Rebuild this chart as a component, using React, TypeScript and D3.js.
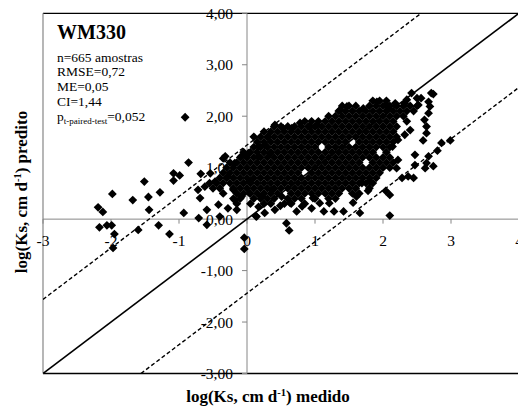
import React from "react";
import * as d3 from "d3";

const xTicks = [-3, -2, -1, 0, 1, 2, 3, 4];
const xTickLabels = ["-3", "-2", "-1", "0", "1", "2", "3", "4"];
const yTicks = [-3, -2, -1, 0, 1, 2, 3, 4];
const yTickLabels = ["-3,00", "-2,00", "-1,00", "0,00", "1,00", "2,00", "3,00", "4,00"];
const ciHalfWidth = 1.44;
const title = "WM330";
const statLines = ["n=665 amostras", "RMSE=0,72", "ME=0,05", "CI=1,44"];
const pValueText = "=0,052";

// scattered points around the cluster [measured, predicted]
const outerPoints: [number, number][] = [
  [-0.91, 1.98], [-0.86, 1.10], [-1.08, 0.89], [-0.99, 0.85], [-1.08, 0.75], [-0.68, 0.88],
  [-1.51, 0.73], [-1.98, 0.49], [-1.68, 0.37], [-1.45, 0.43], [-1.28, 0.52], [-2.19, 0.23],
  [-2.12, 0.14], [-1.44, 0.18], [-0.93, 0.12], [-0.71, 0.02], [-2.17, -0.16], [-2.06, -0.12],
  [-1.99, -0.12], [-1.95, -0.29], [-1.60, -0.21], [-1.30, -0.12], [-1.14, -0.29], [-1.97, -0.56],
  [-0.04, -0.36], [-0.04, -0.58], [0.58, -0.08], [0.62, -0.22],
  [-0.35, 1.18], [-0.03, 1.25], [0.26, 1.44], [0.17, 1.21], [0.34, 1.28], [-0.18, 1.09],
  [-0.28, 0.83], [-0.47, 0.73], [-0.62, 0.63], [-0.72, 0.57], [-0.69, 0.41], [-0.59, 0.18],
  [-0.42, 0.28], [-0.28, 0.21], [-0.18, 0.37], [-0.20, 0.57], [0.04, 0.73], [0.04, 0.50],
  [-0.08, 0.44], [-0.59, -0.11], [-0.40, 0.05], [-0.15, 0.18], [0.14, 0.05], [0.17, 0.24],
  [0.26, 0.12], [0.41, 0.18], [0.22, 0.44], [0.37, 0.57], [0.51, 0.44], [-0.32, 1.22],
  [-0.54, 0.89],
  [0.13, 0.06], [0.73, 0.15], [0.81, 0.25], [0.95, 0.21], [1.13, 0.15], [1.28, 0.15],
  [1.42, 0.15], [1.66, 0.12], [2.10, 0.07], [1.07, 0.31], [1.21, 0.31], [0.49, 0.26],
  [0.63, 0.32], [1.56, 0.32], [0.97, 0.41], [1.61, 0.44], [1.78, 0.55], [1.81, 0.73],
  [1.69, 0.70], [2.04, 0.55],
  [2.74, 2.43], [2.67, 2.28], [2.67, 2.06], [2.61, 1.93], [2.64, 1.80], [2.64, 1.67],
  [2.59, 1.53], [2.99, 1.53], [2.86, 1.48], [2.80, 1.33], [2.67, 1.22], [2.64, 1.09],
  [2.74, 1.03], [2.47, 1.25], [2.47, 1.05], [2.62, 0.99], [2.37, 0.83], [2.45, 0.80],
  [2.28, 0.80], [2.10, 0.47], [2.20, 0.99], [2.35, 1.90], [2.40, 1.73], [2.32, 1.64],
  [2.22, 1.54], [2.14, 1.41], [2.22, 1.15], [2.42, 2.45], [2.50, 2.35], [2.32, 2.25],
  [2.18, 2.25], [2.08, 2.16], [2.52, 2.22], [2.71, 2.45], [2.56, 2.35], [2.69, 2.19],
  [1.91, 2.28], [1.47, 2.19], [1.37, 2.12], [1.71, 2.15], [2.05, 2.22], [2.35, 2.32],
  [0.41, 1.83], [0.53, 1.77], [0.66, 1.77], [0.78, 1.87], [0.93, 1.80], [1.03, 1.83],
  [0.31, 1.60], [0.17, 1.41], [0.02, 1.28], [-0.08, 1.22],
];

// dense central cluster, read row by row: predicted value of each row ...
const clusterRowY = [2.3, 2.2, 2.1, 2.0, 1.9, 1.8, 1.7, 1.6, 1.5, 1.4, 1.3, 1.2, 1.1, 1.0, 0.9, 0.8, 0.7, 0.6, 0.5, 0.4, 0.3];
// ... and the measured values of the markers found in that row
const clusterRowX: number[][] = [
  [1.85, 1.95, 2.05],
  [1.40, 1.50, 1.60, 1.80, 1.90, 2.00, 2.10, 2.20, 2.30, 2.40, 2.50],
  [1.35, 1.45, 1.55, 1.65, 1.75, 1.85, 1.95, 2.05, 2.15, 2.25, 2.35, 2.45],
  [1.20, 1.30, 1.40, 1.50, 1.60, 1.70, 1.80, 1.90, 2.00, 2.10, 2.20, 2.30],
  [0.85, 0.95, 1.05, 1.15, 1.25, 1.35, 1.45, 1.55, 1.65, 1.75, 1.85, 1.95, 2.05, 2.15],
  [0.40, 0.50, 0.60, 0.70, 0.80, 0.90, 1.00, 1.10, 1.20, 1.30, 1.40, 1.50, 1.60, 1.70, 1.80, 1.90, 2.00, 2.10, 2.20],
  [0.25, 0.35, 0.45, 0.55, 0.65, 0.75, 0.85, 0.95, 1.05, 1.15, 1.25, 1.35, 1.45, 1.55, 1.65, 1.75, 1.85, 1.95, 2.05, 2.15],
  [0.10, 0.20, 0.30, 0.40, 0.50, 0.60, 0.70, 0.80, 0.90, 1.00, 1.10, 1.20, 1.30, 1.40, 1.50, 1.60, 1.70, 1.80, 1.90, 2.00, 2.10, 2.20],
  [0.15, 0.25, 0.35, 0.45, 0.55, 0.65, 0.75, 0.85, 0.95, 1.05, 1.15, 1.25, 1.35, 1.45, 1.65, 1.75, 1.85, 1.95, 2.05, 2.15],
  [0.10, 0.20, 0.30, 0.40, 0.50, 0.60, 0.70, 0.80, 0.90, 1.00, 1.20, 1.30, 1.40, 1.50, 1.60, 1.70, 1.80, 1.90, 2.00, 2.10],
  [-0.05, 0.05, 0.15, 0.25, 0.35, 0.45, 0.55, 0.65, 0.75, 0.85, 0.95, 1.05, 1.15, 1.25, 1.35, 1.45, 1.55, 1.65, 1.75, 1.85, 2.05],
  [-0.10, 0.00, 0.10, 0.20, 0.30, 0.40, 0.50, 0.60, 0.70, 0.80, 0.90, 1.00, 1.10, 1.20, 1.30, 1.40, 1.50, 1.60, 1.70, 1.80, 1.90, 2.00, 2.10],
  [-0.25, -0.15, -0.05, 0.05, 0.15, 0.25, 0.35, 0.45, 0.55, 0.65, 0.75, 0.85, 0.95, 1.05, 1.15, 1.25, 1.35, 1.45, 1.55, 1.65, 1.85, 1.95, 2.05, 2.15],
  [-0.30, -0.20, -0.10, 0.00, 0.10, 0.20, 0.30, 0.40, 0.50, 0.60, 0.70, 0.80, 0.90, 1.00, 1.10, 1.20, 1.30, 1.40, 1.50, 1.60, 1.70, 1.80, 1.90, 2.00, 2.10],
  [-0.35, -0.25, -0.15, -0.05, 0.05, 0.15, 0.25, 0.35, 0.45, 0.55, 0.65, 0.75, 0.95, 1.05, 1.15, 1.25, 1.35, 1.45, 1.55, 1.65, 1.75, 1.85, 1.95],
  [-0.40, -0.30, -0.20, -0.10, 0.00, 0.10, 0.20, 0.30, 0.40, 0.50, 0.60, 0.70, 0.80, 0.90, 1.00, 1.10, 1.20, 1.30, 1.40, 1.50, 1.60, 1.70, 1.80, 1.90],
  [-0.55, -0.45, -0.35, -0.25, -0.15, -0.05, 0.05, 0.15, 0.25, 0.35, 0.45, 0.55, 0.65, 0.75, 0.85, 0.95, 1.05, 1.15, 1.25, 1.35, 1.45, 1.55, 1.65, 1.75, 1.85],
  [-0.50, -0.40, -0.20, -0.10, 0.00, 0.10, 0.20, 0.30, 0.40, 0.50, 0.60, 0.70, 0.80, 0.90, 1.00, 1.10, 1.20, 1.30, 1.40, 1.50, 1.60, 1.80],
  [-0.35, -0.15, -0.05, 0.05, 0.15, 0.25, 0.35, 0.45, 0.65, 0.75, 0.85, 0.95, 1.05, 1.15, 1.25, 1.35, 1.55, 1.65],
  [-0.20, -0.10, 0.10, 0.20, 0.30, 0.40, 0.60, 0.70, 0.80, 1.00, 1.20, 1.30],
  [-0.15, 0.05, 0.25, 0.35, 0.55, 0.65, 0.85],
];

const W = 518;
const H = 412;
const FONT = "'Liberation Serif', 'Times New Roman', Times, serif";

export default function App() {
  const x = d3.scaleLinear().domain([-3, 4]).range([43, 519]);
  const y = d3.scaleLinear().domain([-3, 4]).range([373.5, 13.3]);
  const [x0, x1] = x.domain();
  const [y0, y1] = y.domain();
  const clusterPoints: [number, number][] = clusterRowX.flatMap((xs, i) =>
    xs.map((v) => [v, clusterRowY[i]] as [number, number])
  );
  const allPoints = [...outerPoints, ...clusterPoints];
  const r = 4.4;
  const diamond = `M0,${-r}L${r},0L0,${r}L${-r},0Z`;

  const lineGen = d3
    .line<[number, number]>()
    .x((d) => x(d[0]))
    .y((d) => y(d[1]));

  const identity: [number, number][] = [[x0, y0], [x1, y1]];
  const upper: [number, number][] = [[x0, x0 + ciHalfWidth], [y1 - ciHalfWidth, y1]];
  const lower: [number, number][] = [[y0 + ciHalfWidth, y0], [x1, x1 - ciHalfWidth]];

  const axisGray = "#868686";

  return (
    <svg
      width={W}
      height={H}
      style={{ position: "absolute", left: 0, top: 0, background: "#fff" }}
      fontFamily={FONT}
    >
      <defs>
        <clipPath id="plotClip">
          <rect x={x(x0)} y={y(y1)} width={x(x1) - x(x0)} height={y(y0) - y(y1)} />
        </clipPath>
      </defs>

      {/* frame */}
      <line x1={x(x0)} x2={x(x1)} y1={y(y1)} y2={y(y1)} stroke="#000" strokeWidth={1.3} />
      <line x1={x(x0)} x2={x(x1)} y1={y(y0)} y2={y(y0)} stroke="#000" strokeWidth={1.3} />
      <line x1={x(x0)} x2={x(x0)} y1={y(y0)} y2={y(y1)} stroke={axisGray} strokeWidth={1.2} />

      {/* zero axes */}
      <line x1={x(0)} x2={x(0)} y1={y(y0)} y2={y(y1)} stroke={axisGray} strokeWidth={1} />
      <line x1={x(x0)} x2={x(x1)} y1={y(0)} y2={y(0)} stroke={axisGray} strokeWidth={1} />
      {yTicks.map((t) => (
        <line key={"yt" + t} x1={x(0) - 5} x2={x(0)} y1={y(t)} y2={y(t)} stroke={axisGray} strokeWidth={1} />
      ))}
      {xTicks.map((t) => (
        <line key={"xt" + t} x1={x(t)} x2={x(t)} y1={y(0)} y2={y(0) + 4.5} stroke={axisGray} strokeWidth={1} />
      ))}

      {/* tick labels */}
      {yTicks.map((t, i) => (
        <text key={"yl" + t} x={x(0) - 14} y={y(t) + 5.5} textAnchor="end" fontSize={15.5} fill="#000">
          {yTickLabels[i]}
        </text>
      ))}
      {xTicks.map((t, i) => (
        <text key={"xl" + t} x={x(t)} y={y(0) + 27} textAnchor="middle" fontSize={15.5} fill="#000">
          {xTickLabels[i]}
        </text>
      ))}

      {/* reference lines */}
      <g clipPath="url(#plotClip)">
        <path d={lineGen(identity) || ""} stroke="#000" strokeWidth={1.6} fill="none" />
        <path d={lineGen(upper) || ""} stroke="#000" strokeWidth={1.4} fill="none" strokeDasharray="4,2.5" />
        <path d={lineGen(lower) || ""} stroke="#000" strokeWidth={1.4} fill="none" strokeDasharray="4,2.5" />
        {allPoints.map((p, i) => (
          <path key={"p" + i} d={diamond} transform={`translate(${x(p[0])},${y(p[1])})`} fill="#000" />
        ))}
      </g>

      {/* annotation */}
      <text x={57} y={39} fontSize={20} fontWeight="bold" fill="#000">
        {title}
      </text>
      {statLines.map((s, i) => (
        <text key={"s" + i} x={57} y={61.7 + i * 14.6} fontSize={13.5} fill="#000">
          {s}
        </text>
      ))}
      <text x={57} y={121} fontSize={13.5} fill="#000">
        p
        <tspan fontSize={9} dy={3}>
          t-paired-test
        </tspan>
        <tspan dy={-3}>{pValueText}</tspan>
      </text>

      {/* axis titles */}
      <text x={268} y={401.5} textAnchor="middle" fontSize={17} fontWeight="bold" fill="#000">
        log(Ks, cm d
        <tspan fontSize={10.5} dy={-6}>
          -1
        </tspan>
        <tspan dy={6}>) medido</tspan>
      </text>
      <text
        transform="translate(27,192) rotate(-90)"
        textAnchor="middle"
        fontSize={17}
        fontWeight="bold"
        fill="#000"
      >
        log(Ks, cm d
        <tspan fontSize={10.5} dy={-6}>
          -1
        </tspan>
        <tspan dy={6}>) predito</tspan>
      </text>
    </svg>
  );
}
